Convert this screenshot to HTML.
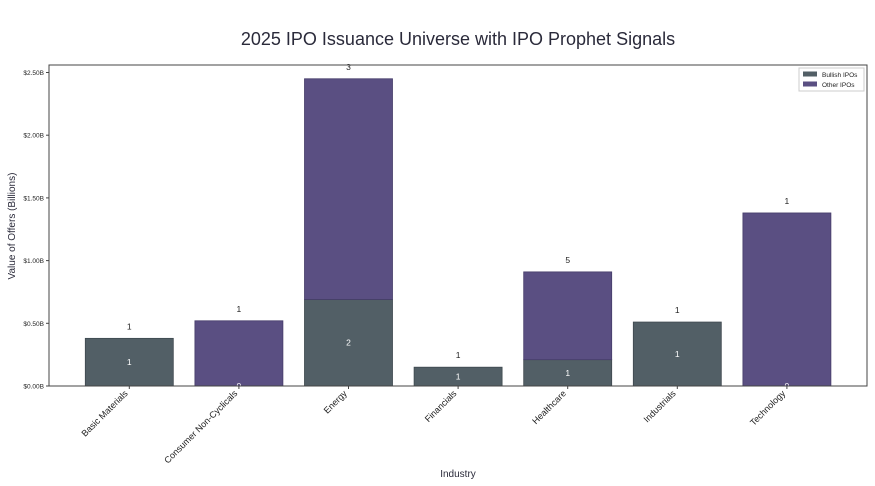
<!DOCTYPE html>
<html><head><meta charset="utf-8"><style>
body{margin:0;background:#fff;font-family:"Liberation Sans",sans-serif}
svg{display:block}
</style></head><body>
<svg id="c" width="875" height="486" xmlns="http://www.w3.org/2000/svg">
<text x="458" y="45" text-anchor="middle" font-size="18" fill="#2a2a3a">2025 IPO Issuance Universe with IPO Prophet Signals</text>
<text x="458" y="477" text-anchor="middle" font-size="10" fill="#2a2a3a">Industry</text>
<text transform="translate(15,226) rotate(-90)" text-anchor="middle" font-size="10" fill="#2a2a3a">Value of Offers (Billions)</text>
<g id="plot"></g>
<rect x="49" y="65" width="818" height="321" fill="none" stroke="#444" stroke-width="1"/>
<g>
<rect x="799" y="68" width="65" height="23" fill="#fff" stroke="#ccc"/>
<rect x="803" y="71.5" width="14" height="5" fill="#525f66"/>
<text x="822" y="77" font-size="6.5" fill="#222">Bullish IPOs</text>
<rect x="803" y="81.5" width="14" height="5" fill="#5a4f82"/>
<text x="822" y="87" font-size="6.5" fill="#222">Other IPOs</text>
</g>
</svg>
<script>
const categories=["Basic Materials","Consumer Non-Cyclicals","Energy","Financials","Healthcare","Industrials","Technology"];
const bullishValues=[0.38,0,0.69,0.15,0.21,0.51,0];
const otherValues=[0,0.52,1.76,0,0.70,0,1.38];
const bullishCounts=[1,0,2,1,1,1,0];
const totalCounts=[1,1,3,1,5,1,1];
const yTicks=[0,0.5,1.0,1.5,2.0,2.5];
const yTickLabels=["$0.00B","$0.50B","$1.00B","$1.50B","$2.00B","$2.50B"];

const NS="http://www.w3.org/2000/svg";
const g=document.getElementById('plot');
const X0=49,X1=867,Y0=386,band=109.6,first=129.3,bw=88;
function y(v){return Y0-v*125.4;}
function x(i){return first+i*band;}
function el(t,a,txt){const e=document.createElementNS(NS,t);for(const k in a)e.setAttribute(k,a[k]);if(txt!==undefined)e.textContent=txt;g.appendChild(e);return e;}
yTicks.forEach((v,i)=>{
  const t=el('line',{x1:X0-3,x2:X0,y1:y(v),y2:y(v),stroke:'#444'});
  
  
  const l=el('text',{x:X0-5,y:y(v)+2.5,'text-anchor':'end','font-size':'6.5',fill:'#222'},yTickLabels[i]);
  
  
});
categories.forEach((c,i)=>{
  const cx=x(i),b=bullishValues[i],o=otherValues[i],tot=b+o;
  if(b>0){
    const r=el('rect',{x:cx-bw/2,y:y(b),width:bw,height:Y0-y(b),fill:'#525f66',stroke:'#3e484e','stroke-width':'0.8'});
    
    
  }
  if(o>0){
    const r=el('rect',{x:cx-bw/2,y:y(tot),width:bw,height:y(b)-y(tot),fill:'#5a4f82',stroke:'#463d6a','stroke-width':'0.8'});
    
    
  }
  const tl=el('text',{x:cx,y:y(tot)-9,'text-anchor':'middle','font-size':'8.5',fill:'#222'},totalCounts[i]);
  
  
  const il=el('text',{x:cx,y:y(b/2)+3,'text-anchor':'middle','font-size':'8.5',fill:'#fff'},bullishCounts[i]);
  
  
  const tk=el('line',{x1:cx,x2:cx,y1:Y0,y2:Y0+3,stroke:'#444'});
  
  
  const xl=el('text',{transform:`translate(${cx-1},${Y0+8}) rotate(-45)`,'text-anchor':'end','font-size':'9',fill:'#222'},c);
  
  
});
</script>
</body></html>
